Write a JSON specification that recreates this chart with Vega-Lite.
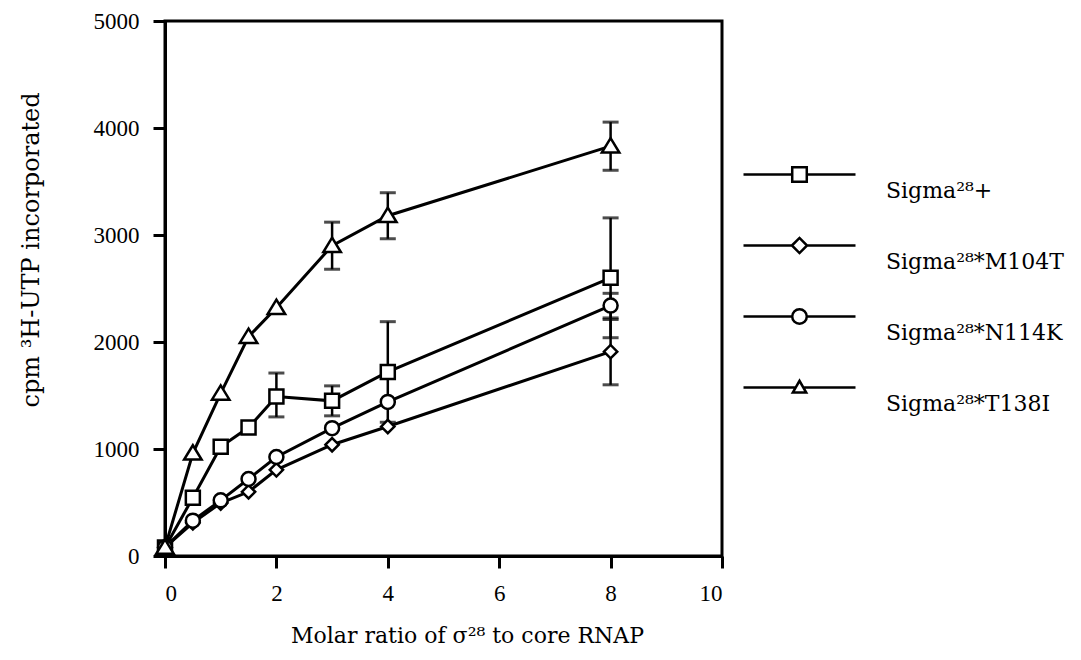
{
  "$schema": "https://vega.github.io/schema/vega-lite/v6.json",
  "width": 557,
  "height": 535,
  "autosize": "none",
  "padding": {"left": 165, "top": 21, "right": 359, "bottom": 104},
  "background": "white",
  "config": {
    "view": {"stroke": "black", "strokeWidth": 3},
    "axis": {
      "grid": false,
      "domainColor": "black",
      "domainWidth": 3,
      "tickColor": "black",
      "tickWidth": 3,
      "tickSize": 12,
      "labelFont": "Liberation Serif",
      "labelFontSize": 23,
      "labelColor": "black",
      "titleFont": "DejaVu Serif",
      "titleFontSize": 22,
      "titleFontWeight": "normal",
      "titleColor": "black"
    },
    "legend": {
      "labelFont": "DejaVu Serif",
      "labelFontSize": 22,
      "labelColor": "black",
      "labelLimit": 0
    }
  },
  "datasets": {
    "pts": [
      {"series": "Sigma²⁸+", "x": 0, "y": 80, "lo": null, "hi": null},
      {"series": "Sigma²⁸+", "x": 0.5, "y": 545, "lo": null, "hi": null},
      {"series": "Sigma²⁸+", "x": 1, "y": 1020, "lo": null, "hi": null},
      {"series": "Sigma²⁸+", "x": 1.5, "y": 1200, "lo": null, "hi": null},
      {"series": "Sigma²⁸+", "x": 2, "y": 1490, "lo": 1300, "hi": 1710},
      {"series": "Sigma²⁸+", "x": 3, "y": 1450, "lo": 1310, "hi": 1590},
      {"series": "Sigma²⁸+", "x": 4, "y": 1720, "lo": 1250, "hi": 2190},
      {"series": "Sigma²⁸+", "x": 8, "y": 2600, "lo": 2040, "hi": 3160},
      {"series": "Sigma²⁸*M104T", "x": 0, "y": 80, "lo": null, "hi": null},
      {"series": "Sigma²⁸*M104T", "x": 0.5, "y": 310, "lo": null, "hi": null},
      {"series": "Sigma²⁸*M104T", "x": 1, "y": 495, "lo": null, "hi": null},
      {"series": "Sigma²⁸*M104T", "x": 1.5, "y": 600, "lo": null, "hi": null},
      {"series": "Sigma²⁸*M104T", "x": 2, "y": 805, "lo": null, "hi": null},
      {"series": "Sigma²⁸*M104T", "x": 3, "y": 1040, "lo": null, "hi": null},
      {"series": "Sigma²⁸*M104T", "x": 4, "y": 1210, "lo": null, "hi": null},
      {"series": "Sigma²⁸*M104T", "x": 8, "y": 1910, "lo": 1600, "hi": 2210},
      {"series": "Sigma²⁸*N114K", "x": 0, "y": 80, "lo": null, "hi": null},
      {"series": "Sigma²⁸*N114K", "x": 0.5, "y": 330, "lo": null, "hi": null},
      {"series": "Sigma²⁸*N114K", "x": 1, "y": 520, "lo": null, "hi": null},
      {"series": "Sigma²⁸*N114K", "x": 1.5, "y": 720, "lo": null, "hi": null},
      {"series": "Sigma²⁸*N114K", "x": 2, "y": 925, "lo": null, "hi": null},
      {"series": "Sigma²⁸*N114K", "x": 3, "y": 1195, "lo": null, "hi": null},
      {"series": "Sigma²⁸*N114K", "x": 4, "y": 1440, "lo": null, "hi": null},
      {"series": "Sigma²⁸*N114K", "x": 8, "y": 2340, "lo": 2225, "hi": 2455},
      {"series": "Sigma²⁸*T138I", "x": 0, "y": 80, "lo": null, "hi": null},
      {"series": "Sigma²⁸*T138I", "x": 0.5, "y": 960, "lo": null, "hi": null},
      {"series": "Sigma²⁸*T138I", "x": 1, "y": 1520, "lo": null, "hi": null},
      {"series": "Sigma²⁸*T138I", "x": 1.5, "y": 2050, "lo": null, "hi": null},
      {"series": "Sigma²⁸*T138I", "x": 2, "y": 2320, "lo": null, "hi": null},
      {"series": "Sigma²⁸*T138I", "x": 3, "y": 2900, "lo": 2680, "hi": 3120},
      {"series": "Sigma²⁸*T138I", "x": 4, "y": 3180, "lo": 2965, "hi": 3395},
      {"series": "Sigma²⁸*T138I", "x": 8, "y": 3830, "lo": 3605, "hi": 4055}
    ]
  },
  "encoding": {
    "x": {
      "field": "x",
      "type": "quantitative",
      "scale": {"domain": [0, 10], "nice": false, "zero": false},
      "axis": {
        "values": [0, 2, 4, 6, 8, 10],
        "labelPadding": 14,
        "title": "Molar ratio of σ²⁸ to core RNAP",
        "titleX": 302,
        "titleY": 86,
        "titleBaseline": "alphabetic"
      }
    }
  },
  "layer": [
    {
      "data": {"name": "pts"},
      "mark": {"type": "line", "color": "black", "strokeWidth": 3},
      "encoding": {
        "y": {
          "field": "y",
          "type": "quantitative",
          "scale": {"domain": [0, 5000], "nice": false},
          "axis": {
            "values": [0, 1000, 2000, 3000, 4000, 5000],
            "format": "d",
            "labelPadding": 14,
            "title": "cpm ³H-UTP incorporated",
            "titleFontSize": 24,
            "titleAngle": 270,
            "titleAlign": "left",
            "titleBaseline": "bottom",
            "titleX": -122,
            "titleY": 386
          }
        },
        "detail": {"field": "series"}
      }
    },
    {
      "data": {"name": "pts"},
      "transform": [{"filter": "datum.lo != null"}],
      "mark": {
        "type": "errorbar",
        "color": "black",
        "thickness": 2.5,
        "ticks": {"size": 16, "thickness": 3, "color": "black"}
      },
      "encoding": {
        "y": {"field": "lo", "type": "quantitative", "title": "cpm ³H-UTP incorporated"},
        "y2": {"field": "hi"}
      }
    },
    {
      "data": {"name": "pts"},
      "mark": {"type": "point", "filled": true, "fill": "white", "stroke": "black", "strokeWidth": 2.5, "size": 196, "opacity": 1},
      "encoding": {
        "y": {"field": "y", "type": "quantitative", "title": "cpm ³H-UTP incorporated"},
        "shape": {
          "field": "series",
          "type": "nominal",
          "scale": {
            "domain": ["Sigma²⁸+", "Sigma²⁸*M104T", "Sigma²⁸*N114K", "Sigma²⁸*T138I"],
            "range": [
              "M-1,-1H1V1H-1Z",
              "M-0.95,0L0,-0.95L0.95,0L0,0.95Z",
              "M-1,0A1,1,0,1,1,1,0A1,1,0,1,1,-1,0Z",
              "M0,-1.15L1.25,0.9L-1.25,0.9Z"
            ]
          },
          "legend": null
        }
      }
    },
    {
      "data": {"name": "pts"},
      "transform": [{"filter": "false"}],
      "mark": {"type": "point", "filled": false, "color": "black", "stroke": "black", "strokeWidth": 2.5, "opacity": 1},
      "encoding": {
        "y": {"field": "y", "type": "quantitative", "title": "cpm ³H-UTP incorporated"},
        "shape": {
          "field": "series",
          "type": "nominal",
          "scale": {
            "domain": ["Sigma²⁸+", "Sigma²⁸*M104T", "Sigma²⁸*N114K", "Sigma²⁸*T138I"],
            "range": [
              "M-1,-0.5H-0.13M0.13,-0.5H1M-0.13,-0.63H0.13V-0.37H-0.13Z",
              "M-1,-0.5H-0.135M0.135,-0.5H1M-0.135,-0.5L0,-0.635L0.135,-0.5L0,-0.365Z",
              "M-1,-0.5H-0.13M0.13,-0.5H1M-0.13,-0.5A0.13,0.13,0,1,1,0.13,-0.5A0.13,0.13,0,1,1,-0.13,-0.5Z",
              "M-1,-0.5H-0.068M0.068,-0.5H1M-0.12,-0.41L0,-0.62L0.12,-0.41Z"
            ]
          },
          "legend": {
            "title": null,
            "orient": "none",
            "legendX": 577,
            "legendY": 124,
            "padding": 0,
            "symbolSize": 12544,
            "symbolStrokeWidth": 2.5,
            "symbolFillColor": "transparent",
            "symbolStrokeColor": "black",
            "labelOffset": 29,
            "labelBaseline": "bottom",
            "rowPadding": 14
          }
        }
      }
    }
  ],
  "resolve": {"scale": {"shape": "independent"}, "legend": {"shape": "independent"}}
}
